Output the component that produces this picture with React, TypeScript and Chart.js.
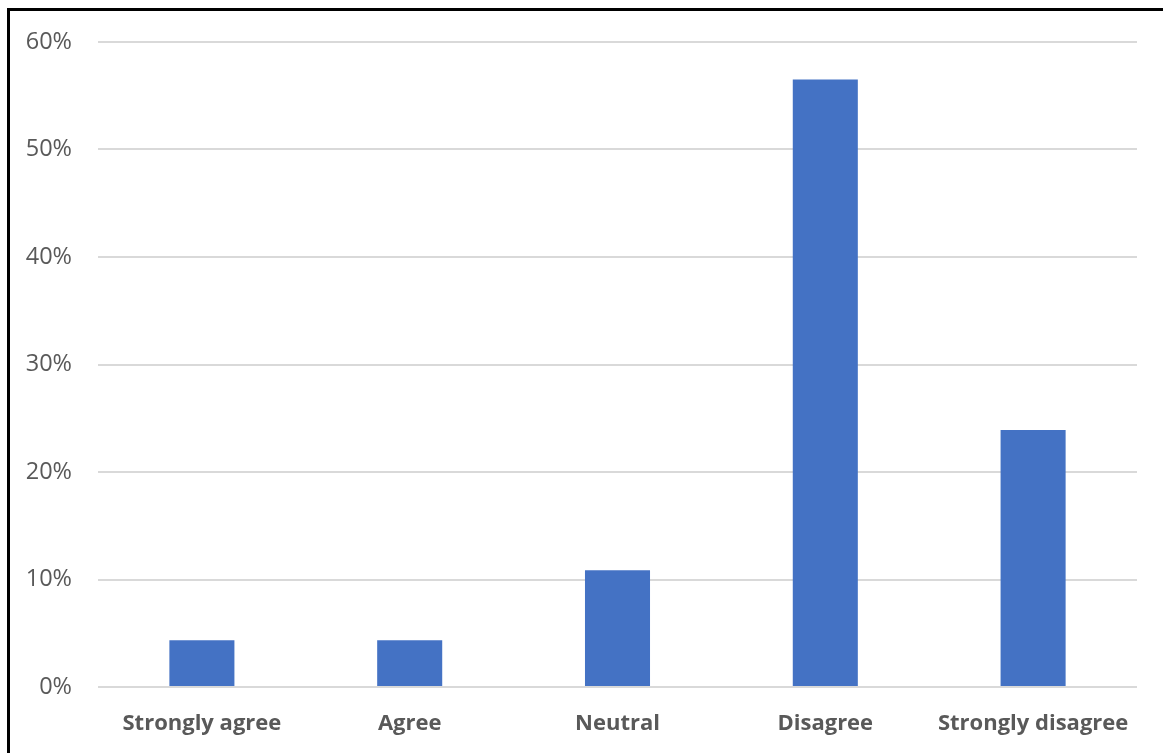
import React, { useEffect, useRef } from "react";
import { Chart, registerables } from "chart.js";

Chart.register(...registerables);

const categories = ["Strongly agree", "Agree", "Neutral", "Disagree", "Strongly disagree"];
const shares = [4.35, 4.35, 10.87, 56.52, 23.91];
const yTicks = [0, 10, 20, 30, 40, 50, 60];

const BAR_COLOR = "#4472C4";
const TEXT_COLOR = "#595959";
const GRID_COLOR = "#D9D9D9";
const FONT = "'Open Sans', Lato, sans-serif";

export default function App() {
  const canvasRef = useRef<HTMLCanvasElement | null>(null);

  useEffect(() => {
    document.body.style.margin = "0";
    const canvas = canvasRef.current;
    if (!canvas) return;
    const chart = new Chart(canvas, {
      type: "bar",
      data: {
        labels: categories,
        datasets: [
          {
            data: shares,
            backgroundColor: BAR_COLOR,
            borderWidth: 0,
            categoryPercentage: 1,
            barPercentage: 0.313,
          },
        ],
      },
      options: {
        animation: false,
        responsive: false,
        maintainAspectRatio: false,
        layout: { padding: { top: 42, right: 26, bottom: 0, left: 0 } },
        plugins: { legend: { display: false }, tooltip: { enabled: false } },
        scales: {
          x: {
            grid: { display: false },
            border: { display: false },
            ticks: {
              color: TEXT_COLOR,
              font: { family: FONT, size: 22, weight: "bold" },
              padding: 16,
              maxRotation: 0,
              autoSkip: false,
            },
            afterFit: (scale: any) => {
              scale.height = 66;
            },
          },
          y: {
            min: 0,
            max: 60,
            afterBuildTicks: (scale: any) => {
              scale.ticks = yTicks.map((v) => ({ value: v }));
            },
            grid: { color: GRID_COLOR, lineWidth: 2, drawTicks: false },
            border: { display: false },
            ticks: {
              color: TEXT_COLOR,
              font: { family: FONT, size: 23.5 },
              padding: 26,
              callback: (v: any) => `${v}%`,
            },
            afterFit: (scale: any) => {
              scale.width = 98;
            },
          },
        },
      },
    });
    return () => chart.destroy();
  }, []);

  return (
    <div style={{ position: "relative", width: 1163, height: 753, background: "#fff", overflow: "hidden" }}>
      <canvas ref={canvasRef} width={1163} height={753} style={{ position: "absolute", left: 0, top: 0 }} />
      <div
        style={{
          position: "absolute",
          left: 7,
          top: 8,
          width: 1200,
          height: 800,
          borderLeft: "3px solid #000",
          borderTop: "3px solid #000",
          pointerEvents: "none",
        }}
      />
    </div>
  );
}
